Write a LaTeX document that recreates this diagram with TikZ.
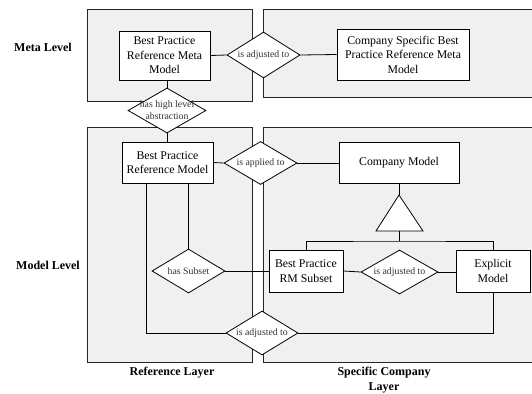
\documentclass[tikz,border=0pt]{standalone}
\usepackage{fontspec}
\setmainfont{Liberation Serif}
\usetikzlibrary{shapes.geometric}
\begin{document}
\begin{tikzpicture}[x=1pt,y=-1pt,
  panel/.style={draw=black!85,fill=black!6,line width=0.9pt},
  box/.style={draw=black,fill=white,line width=0.9pt,rectangle,inner sep=0pt,align=center,font=\fontsize{11.8}{14.5}\selectfont},
  rel/.style={draw=black,fill=white,line width=0.8pt,diamond,inner sep=0pt},
  reltext/.style={font=\fontsize{9.8}{12}\selectfont,text=black!80,align=center,inner sep=0pt},
  lvl/.style={font=\fontsize{12}{14.5}\selectfont\bfseries,align=center,inner sep=0pt},
  conn/.style={draw=black,line width=0.8pt}]
\useasboundingbox (0,0) rectangle (532,393);
% panels
\path[panel] (87,9) rectangle (252,101);
\path[panel] (263,9) rectangle (545,97);
\path[panel] (87,127) rectangle (252,362);
\path[panel] (263,127) rectangle (545,362);
% level labels
\node[lvl] (meta) at (43,47) {Meta Level};
\node[lvl] (model) at (48,265) {Model Level};
\node[lvl] (reflayer) at (172,373) {Reference Layer};
\node[lvl] (complayer) at (384,380) {Specific Company\\Layer};
% boxes
\node[box,minimum width=91,minimum height=49] (bprmm) at (164.5,55.5) {Best Practice\\Reference Meta\\Model};
\node[box,minimum width=132,minimum height=51] (csb) at (403,54.5) {Company Specific Best\\Practice Reference Meta\\Model};
\node[box,minimum width=91,minimum height=41] (bprm) at (167.5,162.5) {Best Practice\\Reference Model};
\node[box,minimum width=120,minimum height=41] (cm) at (399,162.5) {Company Model};
\node[box,minimum width=74,minimum height=42] (sub) at (306,271) {Best Practice\\RM Subset};
\node[box,minimum width=74,minimum height=42] (em) at (493,271) {Explicit\\Model};
% diamonds
\node[rel,minimum width=73,minimum height=46,label={[reltext]center:is adjusted to}] (d1) at (263.5,55) {};
\node[rel,minimum width=78,minimum height=45,label={[reltext]center:has high level\\abstraction}] (d2) at (167,110.5) {};
\node[rel,minimum width=73,minimum height=43,label={[reltext]center:is applied to}] (d3) at (260.5,163) {};
\node[rel,minimum width=73,minimum height=44,label={[reltext]center:has Subset}] (d4) at (188.5,271) {};
\node[rel,minimum width=77,minimum height=44,label={[reltext]center:is adjusted to}] (d5) at (399.5,272) {};
\node[rel,minimum width=72,minimum height=44,label={[reltext]center:is adjusted to}] (d6) at (262,333) {};
% triangle
\coordinate (apex) at (399,195);
\coordinate (bl) at (376,231);
\coordinate (br) at (423,231);
\coordinate (bm) at (399,231);
\coordinate (bus) at (399,241);
\draw[conn,fill=white] (apex) -- (bl) -- (br) -- cycle;
% connectors
\draw[conn] (bprmm.east) -- (d1.west);
\draw[conn] (d1.east) -- (csb.west);
\draw[conn] (bprmm.south -| d2.north) -- (d2.north);
\draw[conn] (d2.south) -- (d2.south |- bprm.north);
\draw[conn] (bprm.east) -- (d3.west);
\draw[conn] (d3.east) -- (d3.east -| cm.west);
\draw[conn] (cm.south -| apex) -- (apex);
\draw[conn] (bm) -- (bus);
\draw[conn] (sub.north) |- (bus) -| (em.north);
\draw[conn] (bprm.south -| d4.north) -- (d4.north);
\draw[conn] (d4.east) -- (d4.east -| sub.west);
\draw[conn] (bprm.south -| 146,0) |- (d6.west);
\draw[conn] (em.south) |- (d6.east);
\draw[conn] (sub.east) -- (d5.west);
\draw[conn] (d5.east) -- (d5.east -| em.west);
\end{tikzpicture}
\end{document}
